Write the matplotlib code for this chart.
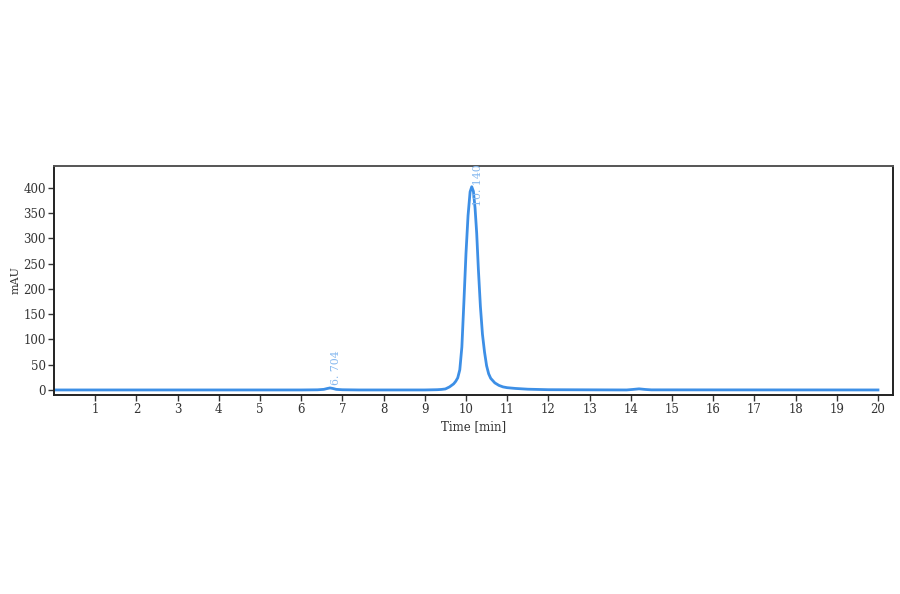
import numpy as np
import matplotlib
matplotlib.use("Agg")
import matplotlib.pyplot as plt

# chromatogram (time in min, signal in mAU)
time = [0.0, 6.0, 6.4, 6.55, 6.63, 6.7, 6.77, 6.85, 7.0, 7.4, 9.0, 9.3, 9.4, 9.5, 9.6,
        9.7, 9.75, 9.8, 9.85, 9.9, 9.95, 10.0, 10.05, 10.1, 10.14, 10.18, 10.22,
        10.26, 10.3, 10.35, 10.4, 10.45, 10.5, 10.55, 10.6, 10.7, 10.8, 10.9, 11.0,
        11.2, 11.5, 12.0, 13.9, 14.05, 14.2, 14.35, 14.5, 20.0]
signal = [0.0, 0.0, 0.3, 1.2, 2.8, 4.0, 2.9, 1.2, 0.4, 0.0, 0.0, 0.5, 1.0, 2.0, 6.0,
          12.0, 17.0, 24.0, 40.0, 85.0, 175.0, 270.0, 345.0, 392.0, 402.0, 393.0, 360.0,
          310.0, 240.0, 165.0, 110.0, 75.0, 48.0, 32.0, 23.0, 14.0, 9.0, 6.0, 4.5,
          3.0, 1.5, 0.5, 0.0, 1.0, 2.2, 1.0, 0.2, 0.0]

peak_times = [6.704, 10.140]
peak_heights = [4.0, 402.0]
peak_labels = ["6.704", "10.140"]

plt.rcParams['font.family'] = ['DejaVu Serif']

fig = plt.figure(figsize=(9, 5.94), dpi=100)
ax = fig.add_axes([0.06, 0.335, 0.932, 0.3855])

line_col = "#3d8fe6"
ax.plot(time, signal, color=line_col, lw=2.0)

for t, h, lab in zip(peak_times, peak_heights, peak_labels):
    ax.text(t + 0.02, min(h + 6, 364), lab.replace(".", ". "), rotation=90,
            color="#85b8ef", fontsize=7.8, ha="left", va="bottom")

ax.set_xlim(0, 20.36)
ax.set_ylim(-10, 443)
ax.set_xticks(np.arange(1, 21))
ax.set_yticks(np.arange(0, 401, 50))
ax.tick_params(direction="out", length=4, width=1, labelsize=8.5, colors="#333333", pad=2)
for s in ax.spines.values():
    s.set_linewidth(1.4)
    s.set_color("#222222")
ax.spines["top"].set_color("#555555")

ax.set_xlabel("Time [min]", fontsize=8.5, color="#333333", labelpad=3)
ax.set_ylabel("mAU", fontsize=8, color="#333333", labelpad=2)

fig.savefig("out.png", dpi=100)
